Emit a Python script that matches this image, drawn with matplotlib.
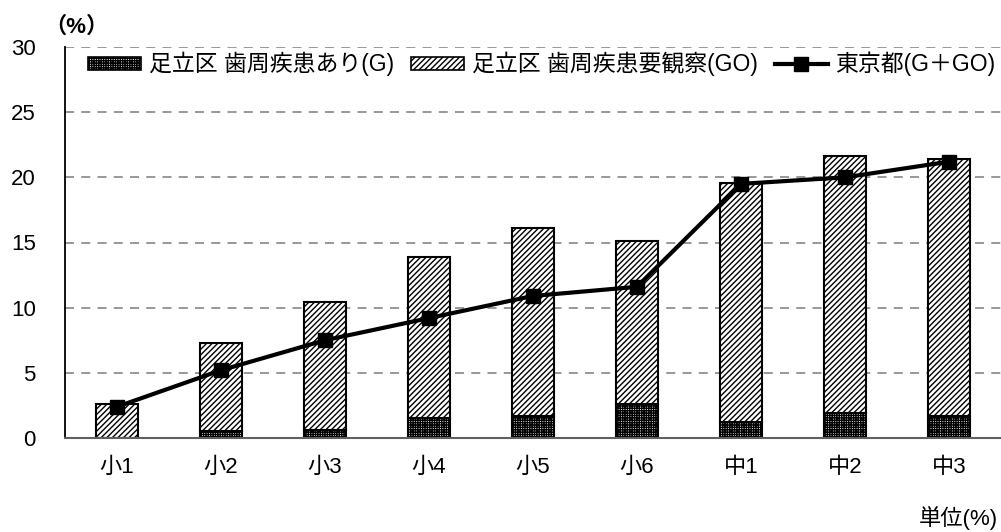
import matplotlib
matplotlib.use("Agg")
import matplotlib.pyplot as plt
from matplotlib.patches import Patch
from matplotlib.lines import Line2D
import numpy as np

plt.rcParams['font.family'] = ['Liberation Sans', 'Noto Sans CJK JP', 'DejaVu Sans']
plt.rcParams['hatch.linewidth'] = 1.0

categories = ['小1', '小2', '小3', '小4', '小5', '小6', '中1', '中2', '中3']
adachi_g = [0.0, 0.5, 0.6, 1.5, 1.7, 2.6, 1.2, 1.9, 1.7]
adachi_total = [2.6, 7.3, 10.4, 13.9, 16.1, 15.1, 19.6, 21.6, 21.4]
tokyo_total = [2.4, 5.2, 7.5, 9.2, 10.9, 11.6, 19.5, 20.0, 21.2]
yticks = [0, 5, 10, 15, 20, 25, 30]

label_g = '足立区 歯周疾患あり(G)'
label_go = '足立区 歯周疾患要観察(GO)'
label_tokyo = '東京都(G＋GO)'

adachi_go = [t - g for t, g in zip(adachi_total, adachi_g)]

W, H = 1001, 532
fig = plt.figure(figsize=(W / 100, H / 100), dpi=100)
ax = fig.add_axes([65 / W, (H - 438) / H, 936 / W, 391 / H])

x = np.arange(len(categories))
bw = 0.41
fs_tick = 16
fs_leg = 16.5

ax.bar(x, adachi_g, bw, color='white', edgecolor='black', hatch='+++++++',
       linewidth=1.5, zorder=2)
ax.bar(x, adachi_go, bw, bottom=adachi_g, color='white', edgecolor='black',
       hatch='//////', linewidth=1.5, zorder=2)
ax.plot(x, tokyo_total, color='black', linewidth=3, marker='s', markersize=10,
        zorder=3)

ax.set_xlim(-0.5, len(categories) - 0.5)
ax.set_ylim(0, 30)
ax.set_yticks(yticks)
ax.set_xticks(x)
ax.set_xticklabels(categories)
ax.tick_params(axis='both', length=0, labelsize=fs_tick)
ax.tick_params(axis='y', pad=21)
ax.tick_params(axis='x', pad=14)
ax.yaxis.grid(True, linestyle=(0, (5, 4)), color='#909090', linewidth=1.3, zorder=0)
ax.set_axisbelow(True)

for side in ['top', 'right']:
    ax.spines[side].set_visible(False)
ax.spines['left'].set_color('black')
ax.spines['left'].set_linewidth(1.3)
ax.spines['bottom'].set_color('#606060')
ax.spines['bottom'].set_linewidth(1.5)

handles = [
    Patch(facecolor='white', edgecolor='black', hatch='+++++++', linewidth=1.2),
    Patch(facecolor='white', edgecolor='black', hatch='//////', linewidth=1.2),
    Line2D([], [], color='black', linewidth=3, marker='s', markersize=10),
]
leg = fig.legend(handles, [label_g, label_go, label_tokyo], ncol=3,
                 loc='center left', bbox_to_anchor=(88 / W, 1 - 64 / H),
                 frameon=False, fontsize=fs_leg, handlelength=2.3,
                 handleheight=0.5, handletextpad=0.35, columnspacing=0.75,
                 borderaxespad=0, borderpad=0)

fig.text(44 / W, 1 - 27 / H, '（%）', fontsize=16, fontweight='bold',
         ha='left', va='center')
fig.text(998 / W, 1 - 518 / H, '単位(%)', fontsize=fs_tick, ha='right', va='center')

fig.savefig('out.png', dpi=100)
